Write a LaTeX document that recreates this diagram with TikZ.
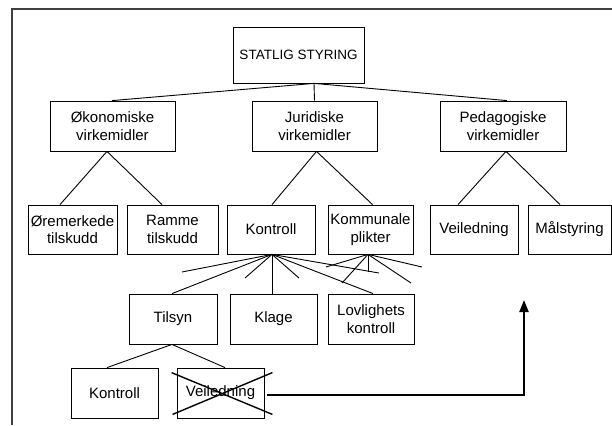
\documentclass[tikz,border=0pt]{standalone}
\usepackage{fontspec}
\setmainfont{Liberation Sans}
\usetikzlibrary{arrows.meta}
\begin{document}
\begin{tikzpicture}[x=1pt,y=-1pt,
  box/.style={draw, line width=0.8pt, inner sep=1pt, align=center,
    font=\fontsize{15}{17.5}\selectfont},
  link/.style={line width=0.9pt},
  cross/.style={line width=1.4pt},
  frame/.style={draw=black!75, line width=1.3pt},
  bigarrow/.style={line width=2.2pt, -{Triangle[width=9pt,length=12pt]}}]
\useasboundingbox (0,0) rectangle (612,425);
\draw[frame] (12,425) -- (12,9) -- (612,9);
% title
\node[box, minimum width=131pt, minimum height=56pt, font=\fontsize{13.5}{16}\selectfont] (top) at (298.5,55) {STATLIG STYRING};
% row 1
\node[box, minimum width=125pt, minimum height=50pt] (oko) at (112.5,126) {Økonomiske\\virkemidler};
\node[box, minimum width=125pt, minimum height=50pt] (jur) at (314.5,126) {Juridiske\\virkemidler};
\node[box, minimum width=126pt, minimum height=50pt] (ped) at (503,126) {Pedagogiske\\virkemidler};
% row 2
\node[box, minimum width=89pt, minimum height=49pt] (ore) at (72.5,229.5) {Øremerkede\\tilskudd};
\node[box, minimum width=91pt, minimum height=49pt] (ramme) at (172.5,229.5) {Ramme\\tilskudd};
\node[box, minimum width=88pt, minimum height=49pt] (kon) at (271,229.5) {Kontroll};
\node[box, minimum width=85pt, minimum height=49pt] (kom) at (370.5,229.5) {Kommunale\\plikter};
\node[box, minimum width=88pt, minimum height=49pt] (vei) at (474,229.5) {Veiledning};
\node[box, minimum width=83pt, minimum height=49pt] (mal) at (569.5,229.5) {Målstyring};
% row 3
\node[box, minimum width=88pt, minimum height=50pt] (til) at (173,319) {Tilsyn};
\node[box, minimum width=87pt, minimum height=50pt] (kla) at (273.5,319) {Klage};
\node[box, minimum width=86pt, minimum height=50pt] (lov) at (371,319) {Lovlighets\\kontroll};
% row 4
\node[box, minimum width=87pt, minimum height=50pt] (kon2) at (114.5,393) {Kontroll};
\node[box, minimum width=87pt, minimum height=50pt] (vei2) at (220.5,393) {Veiledning};
% free ends
\coordinate (k1) at (182,272);
\coordinate (k2) at (245,278);
\coordinate (k3) at (299,278);
\coordinate (k4) at (379,273);
\coordinate (m1) at (326,267);
\coordinate (m2) at (342,283);
\coordinate (m3) at (368,272);
\coordinate (m4) at (411,283);
\coordinate (m5) at (422,267);
\coordinate (tip) at (524,300);
% connectors
\draw[link] ([xshift=15.5pt]top.south) -- ([xshift=-0.5pt]oko.north);
\draw[link] ([xshift=15.5pt]top.south) -- (jur.north);
\draw[link] ([xshift=15.5pt]top.south) -- ([xshift=4pt]ped.north);
\draw[link] ([xshift=-5.5pt]oko.south) -- ([xshift=-12.5pt]ore.north);
\draw[link] ([xshift=-5.5pt]oko.south) -- ([xshift=-10.5pt]ramme.north);
\draw[link] ([xshift=2pt]jur.south) -- ([xshift=1pt]kon.north);
\draw[link] ([xshift=2pt]jur.south) -- ([xshift=2pt]kom.north);
\draw[link] ([xshift=3pt]ped.south) -- ([xshift=-16pt]vei.north);
\draw[link] ([xshift=3pt]ped.south) -- ([xshift=-9.5pt]mal.north);
\foreach \e in {k1,k2,k3,k4} \draw[link] ([xshift=1pt]kon.south) -- (\e);
\draw[link] ([xshift=1pt]kon.south) -- ([xshift=-1pt]til.north);
\draw[link] ([xshift=1pt]kon.south) -- ([xshift=-1.5pt]kla.north);
\draw[link] ([xshift=1pt]kon.south) -- ([xshift=2pt]lov.north);
\foreach \e in {m1,m2,m3,m4,m5} \draw[link] ([xshift=-2.5pt]kom.south) -- (\e);
\draw[link] ([xshift=-1pt]til.south) -- ([xshift=-7.5pt]kon2.north);
\draw[link] ([xshift=-1pt]til.south) -- ([xshift=4.5pt]vei2.north);
% cross over Veiledning
\draw[cross] ([shift={(-5pt,-5pt)}]vei2.north west) -- ([shift={(8pt,4pt)}]vei2.south east);
\draw[cross] ([shift={(-4pt,4pt)}]vei2.south west) -- ([shift={(8pt,-5pt)}]vei2.north east);
% arrow
\draw[bigarrow] ([xshift=3pt,yshift=-2pt]vei2.east) -| (tip);
\end{tikzpicture}
\end{document}
